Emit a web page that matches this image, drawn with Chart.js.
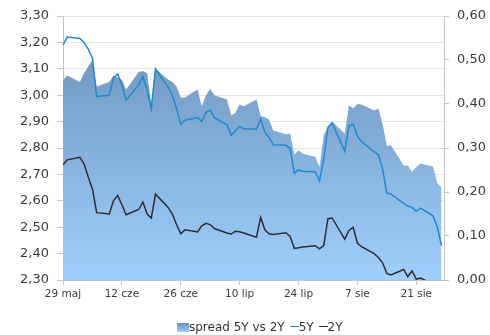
<!DOCTYPE html>
<html>
<head>
<meta charset="utf-8">
<script src="https://cdn.jsdelivr.net/npm/chart.js@4/dist/chart.umd.min.js"></script>
<style>
  html, body { margin: 0; padding: 0; background: #fff; }
  #wrap { position: relative; width: 490px; height: 335px; }
  #legend {
    position: absolute; left: 177px; top: 319px;
    font: 12px "DejaVu Sans", Verdana, sans-serif; color: #333;
    white-space: nowrap; line-height: 16px;
  }
  #legend .item { display: inline-block; margin-right: 5px; }
  #legend .box { display: inline-block; width: 12px; height: 9px; vertical-align: -1px; }
  #legend .dash { display: inline-block; width: 9px; height: 0; border-top: 1.5px solid; vertical-align: 4px; }
</style>
</head>
<body>
<div id="wrap">
  <canvas id="yieldChart" width="490" height="335"></canvas>
  <div id="legend"></div>
</div>
<script>
// trading days and yields (%)
const dates = [
  '2014-05-29','2014-05-30',
  '2014-06-02','2014-06-03','2014-06-04','2014-06-05','2014-06-06',
  '2014-06-09','2014-06-10','2014-06-11','2014-06-12','2014-06-13',
  '2014-06-16','2014-06-17','2014-06-18','2014-06-19','2014-06-20',
  '2014-06-23','2014-06-24','2014-06-25','2014-06-26','2014-06-27',
  '2014-06-30','2014-07-01','2014-07-02','2014-07-03','2014-07-04',
  '2014-07-07','2014-07-08','2014-07-09','2014-07-10','2014-07-11',
  '2014-07-14','2014-07-15','2014-07-16','2014-07-17','2014-07-18',
  '2014-07-21','2014-07-22','2014-07-23','2014-07-24','2014-07-25',
  '2014-07-28','2014-07-29','2014-07-30','2014-07-31','2014-08-01',
  '2014-08-04','2014-08-05','2014-08-06','2014-08-07','2014-08-08',
  '2014-08-11','2014-08-12','2014-08-13','2014-08-14','2014-08-15',
  '2014-08-18','2014-08-19','2014-08-20','2014-08-21','2014-08-22',
  '2014-08-25','2014-08-26','2014-08-27'
];

const yield5Y = [
  3.19, 3.22,
  3.215, 3.20, 3.175, 3.14, 2.995,
  3.00, 3.065, 3.08, 3.04, 2.98,
  3.04, 3.07, 3.02, 2.95, 3.10,
  3.03, 3.00, 2.95, 2.89, 2.905,
  2.915, 2.90, 2.935, 2.944, 2.915,
  2.888, 2.848, 2.865, 2.882, 2.873,
  2.872, 2.91, 2.86, 2.84, 2.812,
  2.81, 2.798, 2.705, 2.717, 2.712,
  2.71, 2.675, 2.76, 2.878, 2.895,
  2.788, 2.885, 2.89, 2.845, 2.825,
  2.785, 2.775, 2.72, 2.63, 2.625,
  2.59, 2.58, 2.575, 2.56, 2.572,
  2.543, 2.50, 2.43
];

const yield2Y = [
  2.736, 2.755,
  2.765, 2.74, 2.69, 2.645, 2.555,
  2.55, 2.60, 2.62, 2.585, 2.547,
  2.567, 2.595, 2.55, 2.535, 2.625,
  2.575, 2.55, 2.51, 2.475, 2.49,
  2.482, 2.505, 2.515, 2.51, 2.495,
  2.478, 2.474, 2.485, 2.483, 2.478,
  2.462, 2.537, 2.49, 2.475, 2.472,
  2.479, 2.465, 2.42, 2.422, 2.425,
  2.43, 2.418, 2.43, 2.532, 2.535,
  2.455, 2.488, 2.50, 2.44, 2.426,
  2.40, 2.385, 2.365, 2.325, 2.319,
  2.34, 2.313, 2.334, 2.303, 2.307,
  2.285, 2.28, 2.22
];

// 5Y - 2Y, percentage points (right axis)
const spread = [
  0.454, 0.465,
  0.45, 0.47, 0.485, 0.50, 0.44,
  0.45, 0.465, 0.46, 0.455, 0.433,
  0.473, 0.475, 0.47, 0.40, 0.48,
  0.455, 0.45, 0.44, 0.415, 0.415,
  0.433, 0.395, 0.42, 0.434, 0.42,
  0.41, 0.374, 0.38, 0.399, 0.395,
  0.41, 0.373, 0.37, 0.365, 0.34,
  0.331, 0.333, 0.285, 0.295, 0.287,
  0.28, 0.257, 0.33, 0.346, 0.36,
  0.333, 0.397, 0.39, 0.40, 0.399,
  0.385, 0.39, 0.355, 0.305, 0.306,
  0.26, 0.26, 0.246, 0.257, 0.265,
  0.258, 0.22, 0.21
];

const monthNames = ['sty', 'lut', 'mar', 'kwi', 'maj', 'cze', 'lip', 'sie', 'wrz', 'paź', 'lis', 'gru'];
const xTickDays = [0, 14, 28, 42, 56, 70, 84];
const leftTicks = [2.3, 2.4, 2.5, 2.6, 2.7, 2.8, 2.9, 3.0, 3.1, 3.2, 3.3];
const rightTicks = [0, 0.1, 0.2, 0.3, 0.4, 0.5, 0.6];

const DAY = 86400000;
const start = Date.parse(dates[0]);
const dayOf = d => Math.round((Date.parse(d) - start) / DAY);
const dayLabel = n => {
  const d = new Date(start + n * DAY);
  return d.getUTCDate() + ' ' + monthNames[d.getUTCMonth()];
};
const points = values => dates.map((d, i) => ({ x: dayOf(d), y: values[i] }));
const comma = v => v.toFixed(2).replace('.', ',');

const areaFill = (context) => {
  const { chart } = context;
  const area = chart.chartArea;
  if (!area) return '#86b2dc';
  const g = chart.ctx.createLinearGradient(0, area.top, 0, area.bottom);
  g.addColorStop(0, '#6a8fb9');
  g.addColorStop(1, '#9fcffc');
  return g;
};

const textColor = '#3a3a3a';
const axisColor = '#c4c4c4';
const font = { family: '"DejaVu Sans", Verdana, sans-serif' };

const chart = new Chart(document.getElementById('yieldChart'), {
  type: 'line',
  data: {
    datasets: [
      {
        label: 'spread 5Y vs 2Y',
        data: points(spread),
        yAxisID: 'y1',
        fill: 'start',
        borderWidth: 0,
        borderColor: 'rgba(0,0,0,0)',
        backgroundColor: areaFill,
        order: 2
      },
      {
        label: '5Y',
        data: points(yield5Y),
        yAxisID: 'y',
        fill: false,
        borderColor: '#1b8ad0',
        borderWidth: 1.5,
        order: 1
      },
      {
        label: '2Y',
        data: points(yield2Y),
        yAxisID: 'y',
        fill: false,
        borderColor: '#2e2e2e',
        borderWidth: 1.5,
        order: 0
      }
    ]
  },
  options: {
    responsive: false,
    animation: false,
    layout: { padding: { left: 17, right: 0, top: 16, bottom: 31 } },
    elements: { point: { radius: 0 }, line: { tension: 0 } },
    plugins: { legend: { display: false }, tooltip: { enabled: false } },
    scales: {
      x: {
        type: 'linear',
        min: 0,
        max: 90.6,
        afterBuildTicks: s => { s.ticks = xTickDays.map(v => ({ value: v })); },
        afterFit: s => { s.height = 24; },
        ticks: {
          callback: v => dayLabel(v),
          autoSkip: false,
          maxRotation: 0,
          padding: 3,
          color: textColor,
          font: { ...font, size: 10.5 }
        },
        grid: { drawOnChartArea: false, tickLength: 5, color: axisColor },
        border: { color: axisColor }
      },
      y: {
        position: 'left',
        min: 2.3,
        max: 3.3,
        afterBuildTicks: s => { s.ticks = leftTicks.map(v => ({ value: v })); },
        afterFit: s => { s.width = 46; },
        ticks: { callback: comma, padding: 8, color: textColor, font: { ...font, size: 13 } },
        grid: { color: '#e4e4e4', tickLength: 6, tickColor: axisColor },
        border: { color: axisColor }
      },
      y1: {
        position: 'right',
        min: 0,
        max: 0.6,
        afterBuildTicks: s => { s.ticks = rightTicks.map(v => ({ value: v })); },
        afterFit: s => { s.width = 46; },
        ticks: { callback: comma, padding: 8, color: textColor, font: { ...font, size: 13 } },
        grid: { drawOnChartArea: false, tickLength: 5, color: axisColor },
        border: { color: axisColor }
      }
    }
  }
});

// legend under the plot, built from the dataset labels
const legend = document.getElementById('legend');
chart.data.datasets.forEach((ds, i) => {
  const item = document.createElement('span');
  item.className = 'item';
  const mark = document.createElement('span');
  if (i === 0) {
    mark.className = 'box';
    mark.style.background = 'linear-gradient(#6a8fb9, #9fcffc)';
  } else {
    mark.className = 'dash';
    mark.style.borderColor = ds.borderColor;
  }
  item.appendChild(mark);
  item.appendChild(document.createTextNode(ds.label));
  legend.appendChild(item);
});
</script>
</body>
</html>
